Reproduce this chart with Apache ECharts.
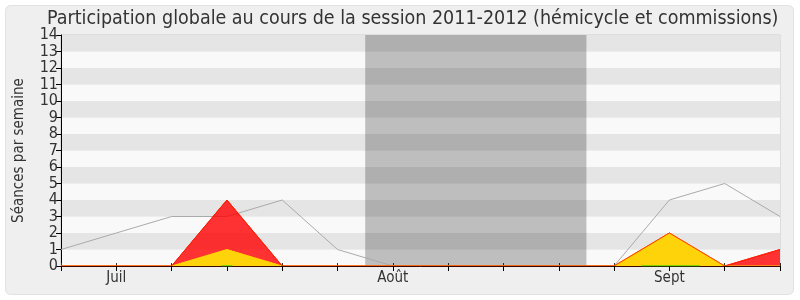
<!DOCTYPE html>
<html>
<head>
<meta charset="utf-8">
<script src="https://cdn.jsdelivr.net/npm/echarts@6/dist/echarts.min.js"></script>
<style>
html,body{margin:0;padding:0;background:#fff;}
#c{width:800px;height:300px;}
</style>
</head>
<body>
<div id="c"></div>
<script>
// ---- data ----
var weekLabels = ['', 'Juil', '', '', '', '', 'Août', '', '', '', '', 'Sept', '', ''];
var totalSessions = [1, 2, 3, 3, 4, 1, 0, 0, 0, 0, 0, 4, 5, 3];
var redSessions   = [0, 0, 0, 4, 0, 0, 0, 0, 0, 0, 0, 2, 0, 1];
var yellowSessions= [0, 0, 0, 1, 0, 0, 0, 0, 0, 0, 0, 2, 0, 0];
var greenSegments = [[2.9, 0], [3.1, 0], null, [10.5, 0], [11.55, 0]];
var vacation = [5.5, 9.5];
var yTicks = [0, 14];

var FONT = "'DejaVu Sans Condensed', 'DejaVu Sans', sans-serif";
function pairs(arr){ return arr.map(function(v,i){ return [i, v]; }); }

var chart = echarts.init(document.getElementById('c'), null, {renderer:'canvas'});
chart.setOption({
  animation: false,
  backgroundColor: '#ffffff',
  graphic: [{
    type: 'rect', z: -10, silent: true,
    shape: {x: 5.5, y: 5.5, width: 788, height: 289, r: 5},
    style: {fill: '#efefef', stroke: '#e2e2e2', lineWidth: 1}
  }],
  title: {
    text: 'Participation globale au cours de la session 2011-2012 (hémicycle et commissions)',
    left: 42, top: 4,
    textStyle: {fontFamily: FONT, fontSize: 19.5, fontWeight: 'normal', color: '#333'}
  },
  grid: {left: 61, right: 20, top: 35, bottom: 34, show: true, borderColor: '#cccccc', borderWidth: 1, backgroundColor: 'transparent'},
  xAxis: [{
    type: 'value', min: 0, max: weekLabels.length - 1, interval: 1,
    position: 'bottom', z: 10,
    axisLine: {show: true, onZero: false, lineStyle: {color: '#3a0800', width: 1}},
    axisTick: {show: true, length: 5, lineStyle: {color: '#000'}},
    splitLine: {show: false},
    axisLabel: {
      fontFamily: FONT, fontSize: 15, color: '#333', margin: 5,
      formatter: function(v){ return weekLabels[Math.round(v)] || ''; }
    }
  }, {
    type: 'value', min: 0, max: weekLabels.length - 1, interval: 1,
    position: 'top',
    axisLine: {show: false},
    axisTick: {show: true, length: 3, lineStyle: {color: '#333'}},
    splitLine: {show: false},
    axisLabel: {show: false}
  }],
  yAxis: {
    type: 'value', min: yTicks[0], max: yTicks[1], interval: 1,
    name: 'Séances par semaine', nameLocation: 'middle', nameGap: 34,
    nameTextStyle: {fontFamily: FONT, fontSize: 15, color: '#333'},
    axisLine: {show: true, lineStyle: {color: '#000'}},
    axisTick: {show: true, length: 5, lineStyle: {color: '#000'}},
    axisLabel: {fontFamily: FONT, fontSize: 16, color: '#333', margin: 3},
    splitLine: {show: false},
    splitArea: {show: true, areaStyle: {color: ['#f9f9f9', '#e5e5e5']}}
  },
  series: [{
    type: 'line', name: 'total', data: pairs(totalSessions),
    symbol: 'none', z: 2,
    lineStyle: {color: '#aaaaaa', width: 1},
    markArea: {
      silent: true,
      itemStyle: {color: 'rgba(0,0,0,0.237)'},
      data: [[{xAxis: vacation[0]}, {xAxis: vacation[1]}]]
    }
  }, {
    type: 'line', name: 'red', data: pairs(redSessions),
    symbol: 'none', z: 3,
    lineStyle: {color: '#ff0000', width: 1},
    areaStyle: {color: 'rgba(255,0,0,0.8)', opacity: 1}
  }, {
    type: 'line', name: 'yellow', data: pairs(yellowSessions),
    symbol: 'none', z: 4,
    lineStyle: {color: '#ffd700', width: 1},
    areaStyle: {color: '#ffd30a', opacity: 1}
  }, {
    type: 'line', name: 'red outline', data: pairs(redSessions),
    symbol: 'none', z: 5,
    lineStyle: {color: 'rgba(255,40,0,0.85)', width: 1}
  }, {
    type: 'line', name: 'green', data: greenSegments,
    symbol: 'none', z: 12, connectNulls: false,
    lineStyle: {color: '#00cc00', width: 1}
  }]
});
</script>
</body>
</html>
